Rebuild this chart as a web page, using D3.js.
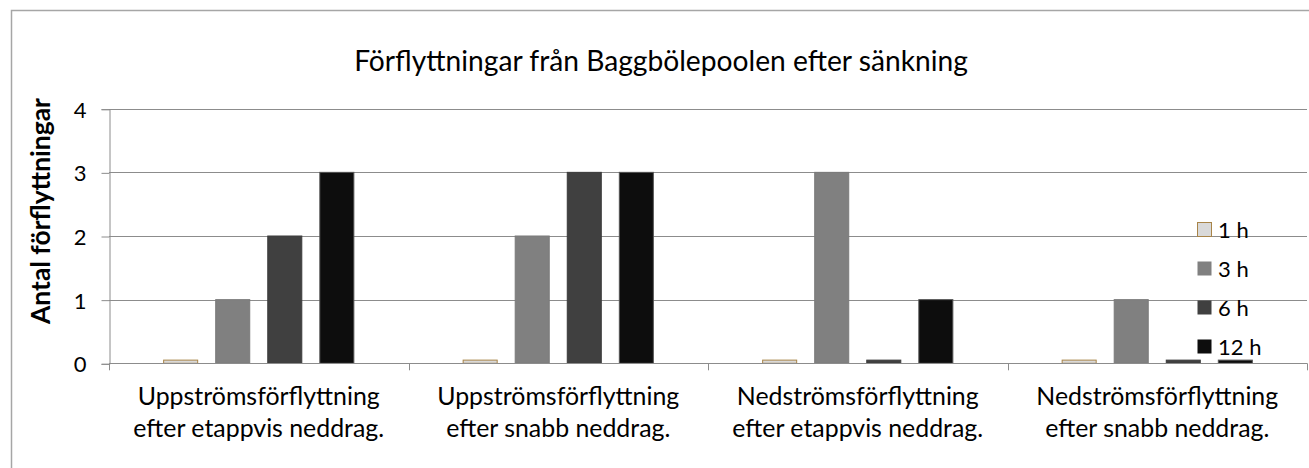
<!DOCTYPE html>
<html>
<head>
<meta charset="utf-8">
<script src="https://cdn.jsdelivr.net/npm/d3@7"></script>
<style>
  body { margin: 0; background: #fff; }
  svg text { font-family: Lato, "Open Sans", sans-serif; fill: #000; }
</style>
</head>
<body>
<div id="chart"></div>
<script>
// categories (two-line labels) and series
const categories = [
  ["Uppströmsförflyttning", "efter etappvis neddrag."],
  ["Uppströmsförflyttning", "efter snabb neddrag."],
  ["Nedströmsförflyttning", "efter etappvis neddrag."],
  ["Nedströmsförflyttning", "efter snabb neddrag."]
];
const seriesNames = ["1 h", "3 h", "6 h", "12 h"];
// zero values show as a thin sliver in the original
const values1h = [0.05, 0.05, 0.05, 0.05];
const values3h = [1, 2, 3, 1];
const values6h = [2, 3, 0.05, 0.05];
const values12h = [3, 3, 1, 0.05];
const yTicks = [0, 1, 2, 3, 4];

const fills = ["#d9d9d9", "#808080", "#404040", "#0d0d0d"];
const strokes = ["#a88448", "#7a7a7a", "#3c3c3c", "#555555"];

const W = 1309, H = 468;
const margin = { top: 109, right: 2, bottom: 105, left: 109 };

const svg = d3.select("#chart").append("svg")
  .attr("width", W).attr("height", H);

// grow/shrink a text's font size until it has the wanted width
function fitWidth(sel, target) {
  const node = sel.node();
  const fs = parseFloat(sel.style("font-size"));
  const w = node.getComputedTextLength();
  sel.style("font-size", (fs * target / w).toFixed(2) + "px");
}

// outer chart border (right/bottom run off the picture)
svg.append("rect")
  .attr("x", 11.5).attr("y", 10.5)
  .attr("width", W + 20).attr("height", H + 20)
  .attr("fill", "none").attr("stroke", "#a6a6a6").attr("stroke-width", 1.5);

const x0 = d3.scaleBand()
  .domain(d3.range(categories.length))
  .range([margin.left, 1307]);

const x1 = d3.scaleBand()
  .domain(d3.range(seriesNames.length))
  .range([0, x0.bandwidth()])
  .paddingInner(0.327)
  .paddingOuter(1.04);

const y = d3.scaleLinear().domain([0, 4]).range([363.3, 108.7]);

// gridlines
svg.append("g")
  .selectAll("line")
  .data(yTicks.slice(1))
  .join("line")
  .attr("x1", margin.left).attr("x2", 1307)
  .attr("y1", d => Math.round(y(d)) + 0.5).attr("y2", d => Math.round(y(d)) + 0.5)
  .attr("stroke", "#8c8c8c");

// y axis
const yAxis = svg.append("g")
  .attr("transform", `translate(${margin.left + 0.5},0.5)`)
  .call(d3.axisLeft(y).tickValues(yTicks).tickFormat(d3.format("d")).tickSize(8).tickPadding(15));
yAxis.select(".domain").attr("stroke", "#8c8c8c");
yAxis.selectAll(".tick line").attr("stroke", "#8c8c8c");
yAxis.selectAll(".tick text")
  .style("font-size", "22px")
  .style("font-family", "Lato, sans-serif")
  .attr("dy", "0.36em");

// y title
const yTitle = svg.append("text")
  .attr("transform", `translate(50,211) rotate(-90)`)
  .attr("text-anchor", "middle")
  .style("font-size", "23px")
  .style("font-weight", "bold")
  .text("Antal förflyttningar");
fitWidth(yTitle, 226);

// title
const title = svg.append("text")
  .attr("x", 661).attr("y", 71)
  .attr("text-anchor", "middle")
  .style("font-size", "23px")
  .text("Förflyttningar från Baggbölepoolen efter sänkning");
fitWidth(title, 614);

// bars
const seriesData = [values1h, values3h, values6h, values12h];
const groups = svg.append("g")
  .selectAll("g")
  .data(categories.map((c, i) => i))
  .join("g")
  .attr("transform", i => `translate(${x0(i)},0)`);

groups.selectAll("rect")
  .data(i => seriesData.map((vals, s) => ({ s, v: vals[i] })))
  .join("rect")
  .attr("x", d => x1(d.s) + 0.5)
  .attr("width", x1.bandwidth() - 1)
  .attr("y", d => y(d.v))
  .attr("height", d => y(0) - y(d.v))
  .attr("fill", d => fills[d.s])
  .attr("stroke", d => strokes[d.s])
  .attr("stroke-width", 1);

// x axis baseline and ticks
svg.append("line")
  .attr("x1", margin.left).attr("x2", 1307)
  .attr("y1", Math.round(y(0)) + 0.5).attr("y2", Math.round(y(0)) + 0.5)
  .attr("stroke", "#8c8c8c");
svg.append("g")
  .selectAll("line")
  .data(d3.range(categories.length + 1))
  .join("line")
  .attr("x1", i => Math.round(margin.left + i * x0.step()) + 0.5)
  .attr("x2", i => Math.round(margin.left + i * x0.step()) + 0.5)
  .attr("y1", y(0)).attr("y2", y(0) + 7)
  .attr("stroke", "#8c8c8c");

// category labels
const catLabels = svg.append("g")
  .selectAll("text")
  .data(categories)
  .join("text")
  .attr("text-anchor", "middle")
  .style("font-size", "19px");
catLabels.each(function (d, i) {
  const t = d3.select(this);
  d.forEach((line, k) => {
    t.append("tspan")
      .attr("x", x0(i) + x0.bandwidth() / 2)
      .attr("y", 405 + k * 32)
      .text(line);
  });
});
// size from the first label's first line
{
  const first = catLabels.filter((d, i) => i === 0).select("tspan");
  const fs = 19 * 242 / first.node().getComputedTextLength();
  catLabels.style("font-size", fs.toFixed(2) + "px");
}

// legend
const legend = svg.append("g")
  .selectAll("g")
  .data(seriesNames)
  .join("g")
  .attr("transform", (d, i) => `translate(1197,${230 + i * 39})`);
legend.append("rect")
  .attr("x", 0.5).attr("y", -7.5)
  .attr("width", 14).attr("height", 14)
  .attr("fill", (d, i) => fills[i])
  .attr("stroke", (d, i) => i === 0 ? strokes[0] : "none");
legend.append("text")
  .attr("x", 21).attr("y", 8)
  .style("font-size", "22px")
  .text(d => d);
</script>
</body>
</html>
